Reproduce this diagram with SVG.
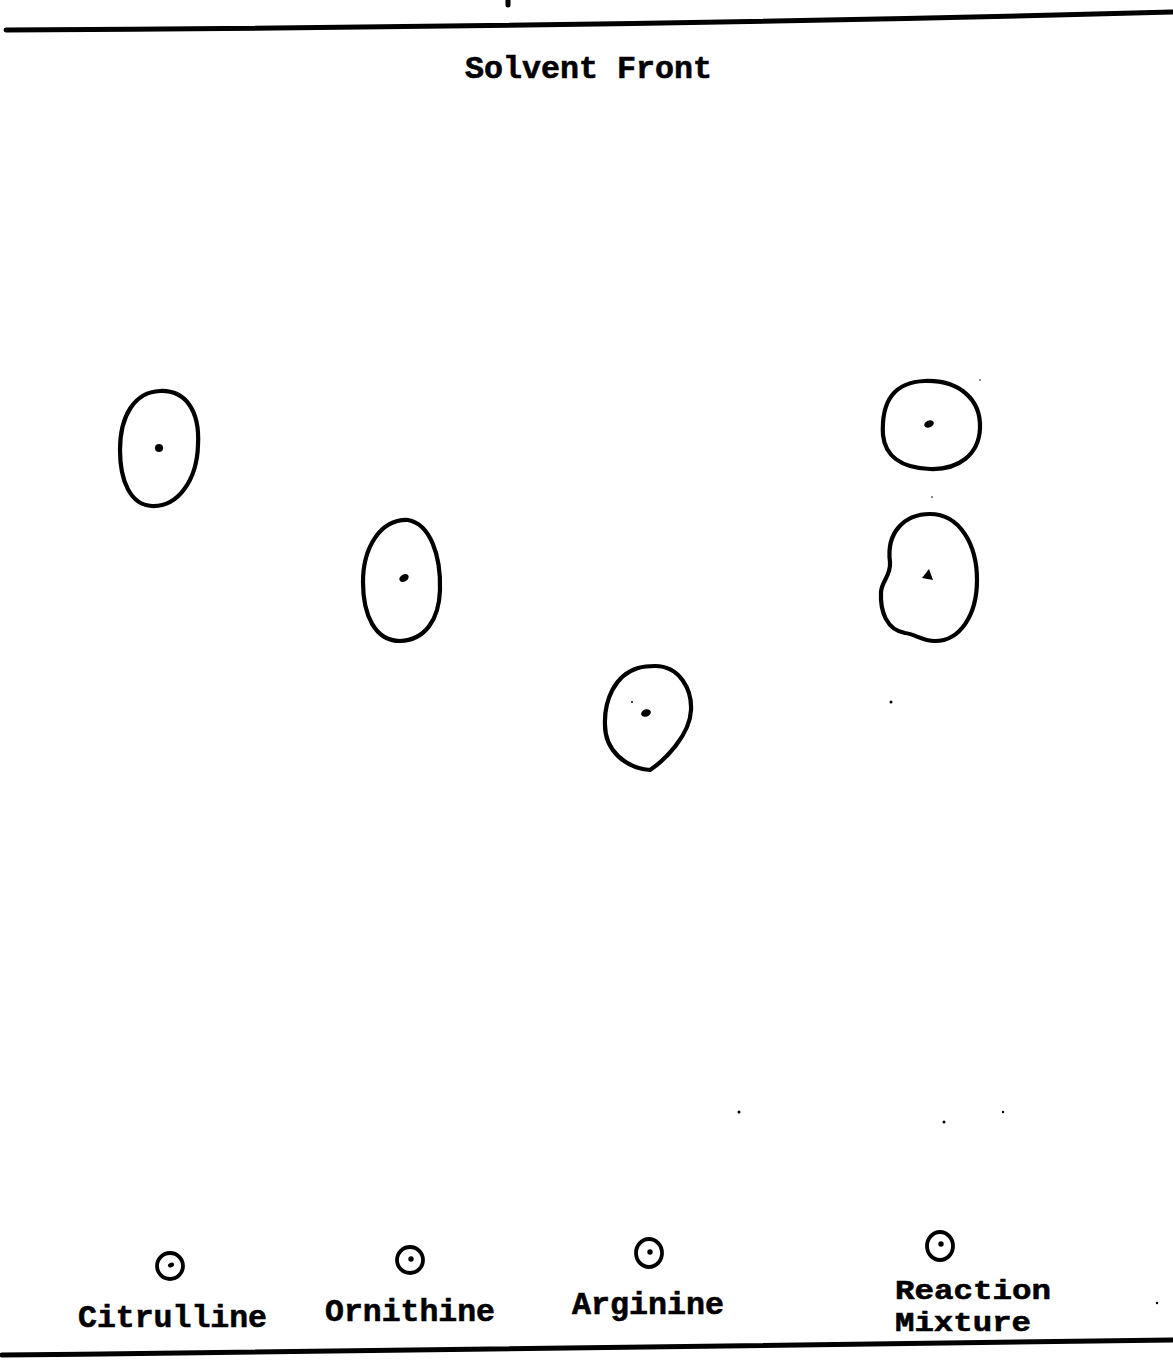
<svg xmlns="http://www.w3.org/2000/svg" width="1173" height="1372" viewBox="0 0 1173 1372">
<style>
.edge{fill:none;stroke:#000;stroke-width:5;stroke-linecap:round}
.spot{fill:none;stroke:#000;stroke-width:4.2;stroke-linejoin:round}
.origin{fill:none;stroke:#000;stroke-width:3.8}
.dot{fill:#000}
.lbl{font-family:"Liberation Mono","DejaVu Sans Mono",monospace;font-weight:bold;font-size:32px;fill:#000;stroke:#000;stroke-width:0.6}
.lbl2{font-size:28px}
</style>
<rect width="1173" height="1372" fill="#fff"/>
<g id="plate-edges">
<path class="edge" d="M 6 30 C 400 28 800 22 1172 12"/>
<path class="edge" d="M 2 1355 C 400 1352 800 1347 1172 1340"/>
<path class="edge" stroke-width="1.5" d="M 508 0 L 508 5"/>
</g>
<g id="solvent-front">
<text class="lbl" x="465" y="78" textLength="247" lengthAdjust="spacingAndGlyphs">Solvent Front</text>
</g>
<g id="spot-citrulline">
<path class="spot" d="M 160 391 C 185 390 200 410 198 445 C 197 480 178 507 152 506 C 130 505 120 480 120 450 C 120 415 135 392 160 391 Z"/>
<ellipse class="dot" cx="159" cy="448" rx="4" ry="4"/>
</g>
<g id="spot-ornithine">
<path class="spot" d="M 408 520 C 430 524 441 555 440 590 C 439 620 425 640 400 641 C 375 641 363 615 363 582 C 363 548 380 519 408 520 Z"/>
<ellipse class="dot" cx="404" cy="578" rx="5" ry="3.5" transform="rotate(-30 404 578)"/>
</g>
<g id="spot-arginine">
<path class="spot" d="M 655 666 C 680 666 692 690 691 710 C 690 735 665 760 650 770 C 625 768 605 750 605 725 C 604 700 615 675 638 668 C 645 666 650 666 655 666 Z"/>
<ellipse class="dot" cx="646" cy="713" rx="5" ry="3.6" transform="rotate(-20 646 713)"/>
<circle class="dot" cx="632" cy="702" r="1"/>
</g>
<g id="spot-mixture-upper">
<path class="spot" d="M 925 381 C 960 380 981 400 980 428 C 979 455 958 470 930 469 C 900 468 885 455 883 435 C 881 400 895 382 925 381 Z"/>
<ellipse class="dot" cx="929" cy="424" rx="5" ry="3.4" transform="rotate(-20 929 424)"/>
</g>
<g id="spot-mixture-lower">
<path class="spot" d="M 930 514 C 960 514 977 545 977 580 C 977 615 960 641 935 641 C 922 641 915 634 905 633 C 887 630 880 612 881 592 C 882 580 891 576 890 562 C 886 532 905 514 930 514 Z"/>
<path class="dot" d="M 922 578 L 929 569 L 933 580 Z"/>
</g>
<g id="origin-citrulline">
<circle class="origin" cx="170" cy="1266" r="13"/>
<ellipse class="dot" cx="171" cy="1265" rx="3.2" ry="2.2" transform="rotate(-25 171 1265)"/>
<text class="lbl" x="78" y="1327" textLength="189" lengthAdjust="spacingAndGlyphs">Citrulline</text>
</g>
<g id="origin-ornithine">
<circle class="origin" cx="410" cy="1260" r="13"/>
<circle class="dot" cx="411" cy="1259" r="2.7"/>
<text class="lbl" x="325" y="1321" textLength="170" lengthAdjust="spacingAndGlyphs">Ornithine</text>
</g>
<g id="origin-arginine">
<ellipse class="origin" cx="649" cy="1253" rx="13" ry="14"/>
<circle class="dot" cx="650" cy="1252" r="2.7"/>
<text class="lbl" x="572" y="1314" textLength="152" lengthAdjust="spacingAndGlyphs">Arginine</text>
</g>
<g id="origin-mixture">
<ellipse class="origin" cx="940" cy="1246" rx="13" ry="14"/>
<circle class="dot" cx="941" cy="1244" r="2.7"/>
<text class="lbl lbl2" x="895" y="1299" textLength="156" lengthAdjust="spacingAndGlyphs">Reaction</text>
<text class="lbl lbl2" x="895" y="1331" textLength="136" lengthAdjust="spacingAndGlyphs">Mixture</text>
</g>
<g id="specks" fill="#000">
<circle cx="891" cy="702" r="1.5"/>
<circle cx="739" cy="1112" r="1.5"/>
<circle cx="944" cy="1122" r="1.5"/>
<circle cx="1003" cy="1112" r="1.2"/>
<circle cx="1157" cy="1303" r="1.2"/>
<circle cx="980" cy="380" r="0.8"/>
<circle cx="932" cy="497" r="0.8"/>
</g>
</svg>
